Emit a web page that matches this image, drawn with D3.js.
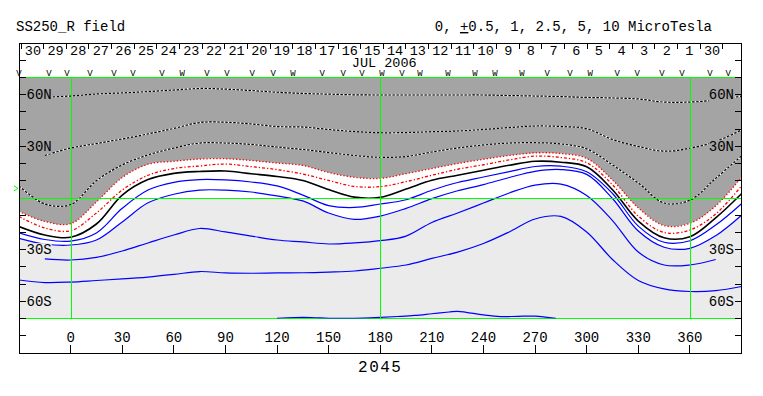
<!DOCTYPE html>
<html>
<head>
<meta charset="utf-8">
<script src="https://cdn.jsdelivr.net/npm/d3@7"></script>
<style>
body { margin: 0; background: #fff; }
svg { display: block; }
text { font-family: "Liberation Mono", "DejaVu Sans Mono", monospace; }
</style>
</head>
<body>
<svg width="763" height="396"></svg>
<script>
// Carrington longitude samples shared by the contours
var lons = [-30, -15, 0, 15, 30, 45, 60, 75, 90, 105, 120, 135, 150, 165, 180,
            195, 210, 225, 240, 255, 270, 285, 300, 315, 330, 345, 360, 375, 390];

// contour latitudes (deg) at each longitude
var lvNeg10 = [null, 58.6, 59.2, 60.4, 61.0, 61.8, 62.7, 63.6, 63.2, 62.4, 61.4, 60.7, 60.3, 59.9, 59.8,
               59.8, 59.8, 59.8, 59.8, 59.5, 59.2, 58.9, 58.4, 58.1, 57.5, 55.7, 55.7, 56.9, 59.2];
var lvNeg5 = [null, 24.7, 29.0, 31.6, 34.3, 37.2, 40.4, 43.8, 44.0, 43.0, 41.5, 41.2, 39.8, 38.6, 37.9,
              38.0, 38.5, 38.9, 39.8, 40.9, 41.8, 41.5, 40.2, 34.0, 29.9, 27.2, 28.9, 32.8, 39.5];
var lvNeg2p5 = [7.0, -3.5, -3.8, 10.0, 19.2, 25.0, 29.0, 31.9, 31.9, 31.1, 29.6, 28.2, 26.4, 24.7, 23.6,
                24.1, 26.7, 29.0, 30.8, 31.9, 32.1, 31.4, 28.5, 19.2, 8.7, -2.9, -1.2, 11.4, 24.4];
var lvNeg1 = [-7.8, -13.6, -14.9, -2.3, 11.9, 19.6, 21.3, 22.6, 22.8, 21.8, 20.3, 18.9, 14.8, 12.0, 11.4,
              14.1, 17.1, 20.0, 22.5, 24.7, 26.2, 25.8, 23.0, 10.5, -5.7, -16.0, -14.7, -4.6, 12.0];
var lvNegHalf = [-10.8, -17.4, -19.0, -8.7, 4.6, 13.2, 17.1, 18.6, 19.7, 18.2, 16.5, 13.9, 10.2, 6.7, 6.6,
                 9.5, 13.2, 16.7, 19.3, 22.1, 24.3, 23.5, 20.5, 7.7, -10.5, -20.0, -18.6, -9.3, 7.0];
var lvZero = [-16.6, -21.5, -22.8, -15.1, 1.7, 10.7, 14.3, 15.4, 15.7, 14.1, 12.5, 10.2, 4.9, 0.5, 0.4,
              5.2, 10.3, 13.2, 16.1, 19.0, 21.3, 20.8, 18.1, 4.8, -13.4, -23.1, -22.5, -11.5, 2.5];
var lvHalf = [-20.2, -24.1, -25.0, -20.3, -6.0, 4.6, 9.1, 10.7, 10.5, 9.3, 7.0, 1.7, -4.4, -5.5, -3.5,
              -1.0, 4.5, 9.0, 12.2, 15.3, 18.3, 18.5, 15.2, 2.6, -16.3, -25.7, -24.8, -15.7, -3.3];
var lvOne = [-23.4, -26.7, -27.3, -24.4, -13.9, -2.8, 2.2, 4.6, 4.6, 3.5, 1.2, -1.7, -8.7, -12.4, -10.5,
             -6.0, -0.4, 4.2, 7.8, 11.9, 15.5, 16.5, 13.7, -0.3, -19.2, -28.6, -29.2, -21.9, -10.0];
var lvTwoHalf = [null, -35.4, -36.0, -34.5, -30.8, -26.1, -21.5, -17.7, -19.7, -22.1, -24.4, -25.5, -26.7, -26.1, -24.8,
                 -22.1, -14.2, -8.7, -2.9, 2.9, 7.5, 8.1, 1.5, -13.1, -31.4, -38.9, -38.9, -35.7, null];
var lvFive = [-47.6, -49.1, -48.8, -47.9, -47.0, -45.9, -44.4, -42.7, -43.5, -43.7, -43.5, -43.4, -43.0, -42.4, -40.8,
              -38.9, -35.1, -31.4, -26.4, -19.7, -12.2, -10.7, -19.7, -35.7, -47.9, -52.8, -54.3, -53.8, -51.4];
var lons10 = [120, 130, 140, 150, 160, 170, 180, 190, 200, 210, 220, 225, 230, 240, 250, 260, 270, 282];
var lvTen = [-69.9, -69.4, -69.4, -69.9, -69.9, -69.7, -69.3, -68.8, -68.2, -67.2, -66.2, -65.8, -66.4, -67.9, -68.9, -68.7, -68.6, -69.9];

// header: days of the rotation (right to left in time) and data-source marks
var days = [30, 29, 28, 27, 26, 25, 24, 23, 22, 21, 20, 19, 18, 17, 16, 15,
            14, 13, 12, 11, 10, 9, 8, 7, 6, 5, 4, 3, 2, 1, 30];
var dayStart = -28.8, dayDeg = 13.16, monthMid = 16;
var markLons = [-30, -12.6, -2.1, 11.3, 25.2, 36.3, 53.1, 64.8, 79.3, 90.9, 105.5, 117.7, 129.3, 146.2, 158.4, 169.4,
                181.0, 192.6, 203.1, 219.3, 235.1, 246.7, 262.4, 277.0, 290.3, 302.0, 317.7, 329.3, 343.8, 355.4, 371.7, 382.2];
var markTypes = ["V", "V", "V", "V", "V", "V", "V", "W", "V", "V", "V", "V", "W", "V", "V", "V",
                 "W", "V", "W", "W", "W", "W", "W", "V", "V", "W", "V", "V", "V", "V", "V", "V"];

var lonTicks = [0, 30, 60, 90, 120, 150, 180, 210, 240, 270, 300, 330, 360];
var latTicks = [-80, -70, -60, -50, -40, -30, -20, -10, 10, 20, 30, 40, 50, 60, 70, 80];
var latLabels = [60, 30, -30, -60];
var greenLons = [0, 180, 360];
var greenLats = [70, 0];
var b0 = 5.6;

var svg = d3.select("svg");
var x = d3.scaleLinear().domain([-30, 390]).range([19, 741.5]);
var y = d3.scaleLinear().domain([-90, 90]).range([353, 43]);
var darkGray = "#a4a4a4", lightGray = "#ebebeb", green = "#00ff00";

function pts(vals, ls) {
    ls = ls || lons;
    return ls.map(function (l, i) { return [l, vals[i]]; });
}
var curve = d3.curveCatmullRom.alpha(0.5);
var line = d3.line()
    .defined(function (d) { return d[1] != null; })
    .x(function (d) { return x(d[0]); })
    .y(function (d) { return y(d[1]); })
    .curve(curve);

var defs = svg.append("defs");
defs.append("clipPath").attr("id", "plot").append("rect")
    .attr("x", x(-30)).attr("y", y(70))
    .attr("width", x(390) - x(-30)).attr("height", y(-70) - y(70));
defs.append("clipPath").attr("id", "south").append("rect")
    .attr("x", x(-30)).attr("y", y(0))
    .attr("width", x(390) - x(-30)).attr("height", y(-70) - y(0));

// shading: dark below -1, light above +1 in the south
svg.append("path").datum(pts(lvNeg1))
    .attr("d", d3.area().x(function (d) { return x(d[0]); }).y0(y(70)).y1(function (d) { return y(d[1]); }).curve(curve))
    .attr("fill", darkGray).attr("clip-path", "url(#plot)");
svg.append("path").datum(pts(lvOne))
    .attr("d", d3.area().x(function (d) { return x(d[0]); }).y0(y(-70)).y1(function (d) { return y(d[1]); }).curve(curve))
    .attr("fill", lightGray).attr("clip-path", "url(#south)");

// bottom boundary
svg.append("line").attr("x1", x(-30)).attr("x2", x(390)).attr("y1", y(-70)).attr("y2", y(-70))
    .attr("stroke", green).attr("shape-rendering", "crispEdges");

var cg = svg.append("g").attr("clip-path", "url(#plot)").attr("fill", "none");

function drawDashedBlack(vals) {
    cg.append("path").attr("d", line(pts(vals))).attr("stroke", "#fff").attr("stroke-width", 1.2);
    cg.append("path").attr("d", line(pts(vals))).attr("stroke", "#000").attr("stroke-width", 1.2)
        .attr("stroke-dasharray", "2.5,1.5");
}
drawDashedBlack(lvNeg10);
drawDashedBlack(lvNeg5);
drawDashedBlack(lvNeg2p5);
cg.append("path").attr("d", line(pts(lvNeg1))).attr("stroke", "#ff0000").attr("stroke-width", 1.3)
    .attr("stroke-dasharray", "1.3,2");
cg.append("path").attr("d", line(pts(lvNegHalf))).attr("stroke", "#ff0000").attr("stroke-width", 1.3)
    .attr("stroke-dasharray", "3,2,1.3,2");
cg.append("path").attr("d", line(pts(lvZero))).attr("stroke", "#000").attr("stroke-width", 1.6);
[lvHalf, lvOne, lvTwoHalf, lvFive].forEach(function (v) {
    cg.append("path").attr("d", line(pts(v))).attr("stroke", "#0000ff").attr("stroke-width", 1.2);
});

// green reference lines
greenLats.forEach(function (la) {
    svg.append("line").attr("x1", x(-30)).attr("x2", x(390)).attr("y1", y(la)).attr("y2", y(la))
        .attr("stroke", green).attr("shape-rendering", "crispEdges");
});
greenLons.forEach(function (lo) {
    svg.append("line").attr("x1", Math.round(x(lo)) + 0.5).attr("x2", Math.round(x(lo)) + 0.5)
        .attr("y1", y(70)).attr("y2", y(-70))
        .attr("stroke", green);
});
cg.append("path").attr("d", line(pts(lvTen, lons10))).attr("stroke", "#0000ff").attr("stroke-width", 1.2);

// sub-earth latitude marker
svg.append("path")
    .attr("d", "M" + (x(-30) - 5) + "," + (y(b0) - 2.5) + "L" + (x(-30) - 1) + "," + y(b0) + "L" + (x(-30) - 5) + "," + (y(b0) + 2.5))
    .attr("fill", "none").attr("stroke", green);

// latitude ticks both sides
var tg = svg.append("g").attr("stroke", "#000").attr("shape-rendering", "crispEdges");
latTicks.forEach(function (la) {
    tg.append("line").attr("x1", x(-30)).attr("x2", x(-30) + 7).attr("y1", y(la)).attr("y2", y(la));
    tg.append("line").attr("x1", x(390)).attr("x2", x(390) - 7).attr("y1", y(la)).attr("y2", y(la));
});

function latText(la) { return Math.abs(la) + (la > 0 ? "N" : "S"); }
latLabels.forEach(function (la) {
    [["start", x(-30) + 7.5], ["end", x(390) - 7.5]].forEach(function (s) {
        var g = svg.append("g");
        var r = g.append("rect");
        var t = g.append("text").attr("x", s[1]).attr("y", y(la) + 4.5)
            .attr("text-anchor", s[0]).attr("font-size", 14).attr("fill", "#000").text(latText(la));
        var b = t.node().getBBox();
        r.attr("x", b.x).attr("y", b.y + 1).attr("width", b.width).attr("height", b.height - 2)
            .attr("fill", la > 0 ? darkGray : lightGray);
    });
});

// frame
svg.append("rect").attr("x", x(-30)).attr("y", y(90)).attr("width", x(390) - x(-30)).attr("height", y(-90) - y(90))
    .attr("fill", "none").attr("stroke", "#000").attr("shape-rendering", "crispEdges");

// longitude axis
lonTicks.forEach(function (lo) {
    svg.append("line").attr("x1", x(lo)).attr("x2", x(lo)).attr("y1", y(-90)).attr("y2", y(-90) - 8)
        .attr("stroke", "#000").attr("shape-rendering", "crispEdges");
    svg.append("text").attr("x", x(lo)).attr("y", y(-90) - 11).attr("text-anchor", "middle")
        .attr("font-size", 14).text(lo);
});
svg.append("text").attr("x", x(180)).attr("y", 372).attr("text-anchor", "middle")
    .attr("font-size", 16).attr("letter-spacing", 1.5).text("2045");

// header: days
d3.range(days.length + 1).forEach(function (i) {
    var lo = dayStart + i * dayDeg;
    svg.append("line").attr("x1", x(lo)).attr("x2", x(lo)).attr("y1", y(90)).attr("y2", y(90) + 6)
        .attr("stroke", "#000").attr("shape-rendering", "crispEdges");
});
days.forEach(function (dd, i) {
    svg.append("text").attr("x", x(dayStart + (i + 0.5) * dayDeg) + 0.5).attr("y", y(90) + 11.5)
        .attr("text-anchor", "middle").attr("font-size", 13.5).text(dd);
});
svg.append("text").attr("x", x(dayStart + monthMid * dayDeg) + 1).attr("y", 66.5)
    .attr("text-anchor", "middle").attr("font-size", 13.5).text("JUL 2006");
markLons.forEach(function (lo, i) {
    svg.append("text").attr("x", x(lo)).attr("y", y(70) - 1.5).attr("text-anchor", "middle")
        .attr("font-size", 9).text(markTypes[i]);
});

// titles
svg.append("text").attr("x", 16).attr("y", 31).attr("font-size", 14).text("SS250_R field");
var tt = svg.append("text").attr("x", 712).attr("y", 31).attr("text-anchor", "end").attr("font-size", 14);
tt.append("tspan").text("0, ");
tt.append("tspan").attr("text-decoration", "underline").text("+");
tt.append("tspan").text("0.5, 1, 2.5, 5, 10 MicroTesla");
</script>
</body>
</html>
